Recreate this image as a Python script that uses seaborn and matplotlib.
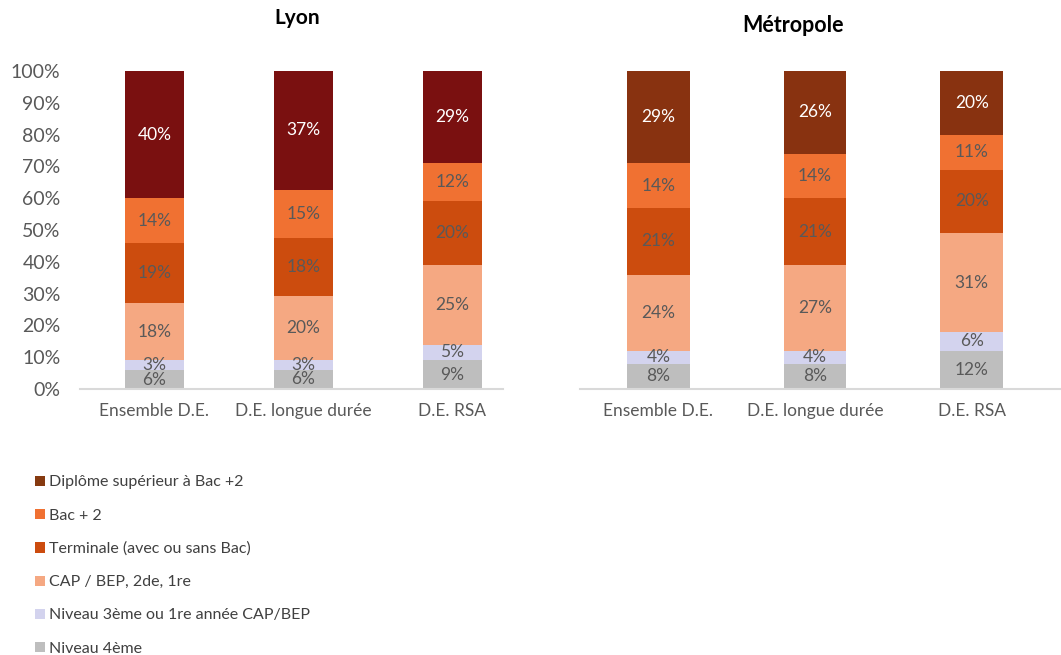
import matplotlib
matplotlib.use("Agg")
import matplotlib.pyplot as plt
from matplotlib.patches import Patch
import numpy as np
import seaborn as sns

categories = ["Ensemble D.E.", "D.E. longue durée", "D.E. RSA"]
levels = ["Niveau 4ème", "Niveau 3ème ou 1re année CAP/BEP", "CAP / BEP, 2de, 1re",
          "Terminale (avec ou sans Bac)", "Bac + 2", "Diplôme supérieur à Bac +2"]

# values per level (bottom -> top), one entry per category
lyon = {
    "Niveau 4ème": [6, 6, 9],
    "Niveau 3ème ou 1re année CAP/BEP": [3, 3, 5],
    "CAP / BEP, 2de, 1re": [18, 20, 25],
    "Terminale (avec ou sans Bac)": [19, 18, 20],
    "Bac + 2": [14, 15, 12],
    "Diplôme supérieur à Bac +2": [40, 37, 29],
}
metropole = {
    "Niveau 4ème": [8, 8, 12],
    "Niveau 3ème ou 1re année CAP/BEP": [4, 4, 6],
    "CAP / BEP, 2de, 1re": [24, 27, 31],
    "Terminale (avec ou sans Bac)": [21, 21, 20],
    "Bac + 2": [14, 14, 11],
    "Diplôme supérieur à Bac +2": [29, 26, 20],
}

colors = ["#BEBEBE", "#D3D3EE", "#F5A882", "#CC4C0E", "#F07132", "#7A1010"]
top_metro = "#883210"
legend_top = "#863A10"

sns.set_theme(style="white")
plt.rcParams["font.family"] = ["Lato", "DejaVu Sans"]

fig = plt.figure(figsize=(10.61, 6.55), dpi=100)
ax1 = fig.add_axes([0.0754, 0.406, 0.3987, 0.4855])
ax2 = fig.add_axes([0.5467, 0.406, 0.4533, 0.4855])


def draw(ax, data, top_color, xright):
    vals = np.array([data[l] for l in levels], dtype=float)
    vals_n = vals / vals.sum(axis=0) * 100
    cum = np.cumsum(vals_n, axis=0)
    cols = colors[:-1] + [top_color]
    for i in range(len(levels) - 1, -1, -1):
        sns.barplot(x=categories, y=cum[i], color=cols[i], width=0.4,
                    saturation=1, ax=ax, linewidth=0)
    for i in range(len(levels)):
        for j in range(len(categories)):
            mid = cum[i, j] - vals_n[i, j] / 2
            tc = "white" if i == len(levels) - 1 else "#595959"
            ax.text(j, mid, f"{int(vals[i, j])}%", ha="center", va="center",
                    fontsize=12.5, color=tc)
    ax.set_ylim(0, 100)
    ax.set_xlim(-0.5, xright)
    ax.set_ylabel("")
    for s in ["top", "right", "left"]:
        ax.spines[s].set_visible(False)
    ax.spines["bottom"].set_color("#D9D9D9")
    ax.spines["bottom"].set_linewidth(1.5)
    ax.tick_params(axis="x", labelsize=12.5, labelcolor="#595959", pad=10, length=0)


draw(ax1, lyon, colors[-1], 2.34)
draw(ax2, metropole, top_metro, 2.57)

ax1.set_yticks(np.arange(0, 101, 10))
ax1.set_yticklabels([f"{v}%" for v in range(0, 101, 10)])
ax1.tick_params(axis="y", labelsize=14, labelcolor="#595959", pad=14, length=0)
ax2.set_yticks([])

fig.text(297 / 1061, 1 - 18 / 655, "Lyon", ha="center", va="center",
         fontsize=15, fontweight="bold", color="black")
fig.text(793 / 1061, 1 - 25 / 655, "Métropole", ha="center", va="center",
         fontsize=15.5, fontweight="bold", color="black")

leg_colors = colors[:-1] + [legend_top]
handles = [Patch(facecolor=leg_colors[i], edgecolor="none", label=levels[i])
           for i in range(len(levels) - 1, -1, -1)]
fig.legend(handles=handles, loc="upper left", bbox_to_anchor=(0.027, 1 - 469 / 655),
           frameon=False, fontsize=11.5, labelcolor="#404040", handlelength=0.6,
           handleheight=0.6, handletextpad=0.3, labelspacing=1.2, borderaxespad=0)

fig.savefig("out.png", dpi=100)
